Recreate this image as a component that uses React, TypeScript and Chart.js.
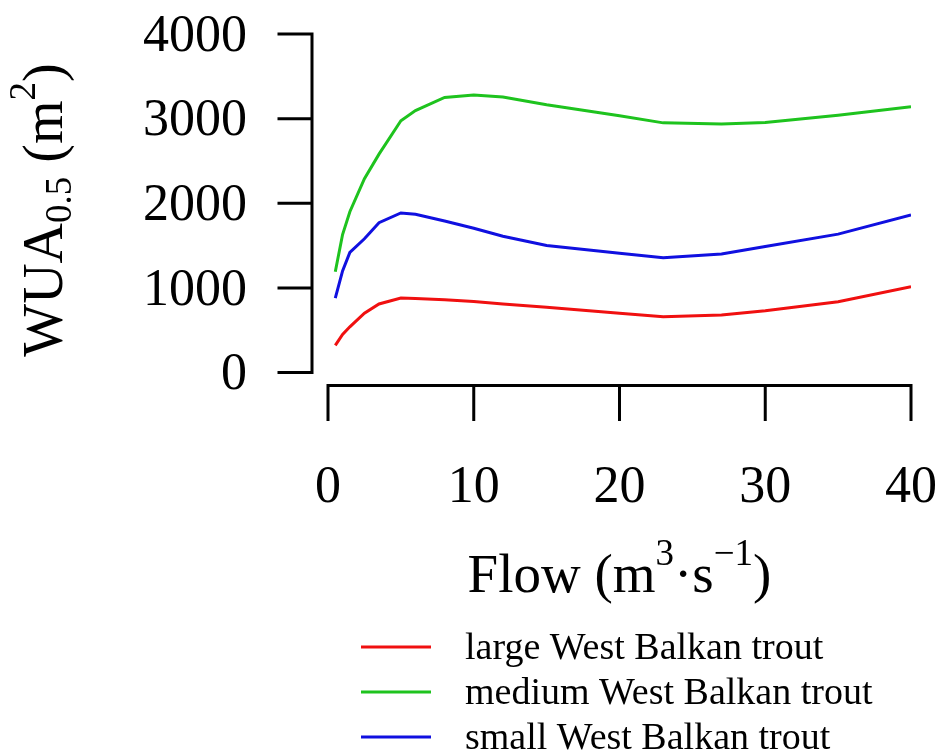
import React, { useEffect, useRef } from 'react';
import { Chart, registerables } from 'chart.js';

Chart.register(...registerables);

// Flow (m3/s)
const flow = [0.5, 1, 1.5, 2.5, 3.5, 5, 6, 8, 10, 12, 15, 20, 23, 27, 30, 35, 40];
// WUA0.5 (m2)
const largeWUA = [320, 450, 540, 700, 810, 880, 875, 860, 840, 810, 770, 700, 660, 680, 730, 835, 1015];
const mediumWUA = [1190, 1630, 1900, 2290, 2580, 2975, 3095, 3250, 3280, 3255, 3165, 3035, 2950, 2937, 2955, 3040, 3140];
const smallWUA = [880, 1200, 1420, 1580, 1770, 1885, 1870, 1790, 1705, 1610, 1500, 1410, 1357, 1400, 1490, 1635, 1862];

const seriesLabels = ['large West Balkan trout', 'medium West Balkan trout', 'small West Balkan trout'];
const seriesColors = ['#f01010', '#1ec31e', '#1010e0'];

const xTicks = [0, 10, 20, 30, 40];
const yTicks = [0, 1000, 2000, 3000, 4000];

const SERIF = '"Liberation Serif", "Times New Roman", serif';

type Piece = { t: string; s: number; dy: number };

function drawRich(ctx: CanvasRenderingContext2D, pieces: Piece[], cx: number, baseY: number) {
  let total = 0;
  const widths = pieces.map((p) => {
    ctx.font = `${p.s}px ${SERIF}`;
    const w = ctx.measureText(p.t).width;
    total += w;
    return w;
  });
  let x = cx - total / 2;
  ctx.textAlign = 'left';
  ctx.textBaseline = 'alphabetic';
  pieces.forEach((p, i) => {
    ctx.font = `${p.s}px ${SERIF}`;
    ctx.fillText(p.t, x, baseY + p.dy);
    x += widths[i];
  });
}

const rStylePlugin = {
  id: 'rStyle',
  afterDraw(chart: any) {
    const ctx: CanvasRenderingContext2D = chart.ctx;
    const xs = chart.scales.x;
    const ys = chart.scales.y;
    const area = chart.chartArea;
    ctx.save();
    ctx.strokeStyle = '#000';
    ctx.fillStyle = '#000';
    ctx.lineWidth = 3;
    ctx.lineCap = 'square';

    // Y axis (offset to the left like R)
    const yAxisX = area.left - 16;
    const yTickLen = 33;
    ctx.beginPath();
    ctx.moveTo(yAxisX, ys.getPixelForValue(yTicks[0]));
    ctx.lineTo(yAxisX, ys.getPixelForValue(yTicks[yTicks.length - 1]));
    yTicks.forEach((v) => {
      const py = ys.getPixelForValue(v);
      ctx.moveTo(yAxisX, py);
      ctx.lineTo(yAxisX - yTickLen, py);
    });
    ctx.stroke();

    ctx.font = `52px ${SERIF}`;
    ctx.textAlign = 'right';
    ctx.textBaseline = 'middle';
    yTicks.forEach((v) => {
      const py = ys.getPixelForValue(v);
      ctx.fillText(String(v), yAxisX - yTickLen - 32, py + 3);
    });

    // X axis (offset below)
    const xAxisY = area.bottom + 13;
    const xTickLen = 34;
    ctx.beginPath();
    ctx.moveTo(xs.getPixelForValue(xTicks[0]), xAxisY);
    ctx.lineTo(xs.getPixelForValue(xTicks[xTicks.length - 1]), xAxisY);
    xTicks.forEach((v) => {
      const px = xs.getPixelForValue(v);
      ctx.moveTo(px, xAxisY);
      ctx.lineTo(px, xAxisY + xTickLen);
    });
    ctx.stroke();

    ctx.font = `52px ${SERIF}`;
    ctx.textAlign = 'center';
    ctx.textBaseline = 'alphabetic';
    xTicks.forEach((v) => {
      const px = xs.getPixelForValue(v);
      ctx.fillText(String(v), px, 502);
    });

    // X title
    drawRich(
      ctx,
      [
        { t: 'Flow (m', s: 55, dy: 0 },
        { t: '3', s: 37, dy: -27 },
        { t: '\u00B7s', s: 55, dy: 0 },
        { t: '\u22121', s: 37, dy: -27 },
        { t: ')', s: 55, dy: 0 },
      ],
      (area.left + area.right) / 2,
      592
    );

    // Y title (rotated)
    ctx.save();
    ctx.translate(62, 210);
    ctx.rotate(-Math.PI / 2);
    drawRich(
      ctx,
      [
        { t: 'WUA', s: 56, dy: 0 },
        { t: '0.5', s: 37, dy: 9 },
        { t: ' (m', s: 56, dy: 0 },
        { t: '2', s: 37, dy: -27 },
        { t: ')', s: 56, dy: 0 },
      ],
      0,
      0
    );
    ctx.restore();

    // Legend
    chart.data.datasets.forEach((ds: any, i: number) => {
      const ly = 647 + 45 * i;
      ctx.strokeStyle = ds.borderColor;
      ctx.lineWidth = 3;
      ctx.lineCap = 'butt';
      ctx.beginPath();
      ctx.moveTo(361, ly);
      ctx.lineTo(431, ly);
      ctx.stroke();
      ctx.fillStyle = '#000';
      ctx.font = `38px ${SERIF}`;
      ctx.textAlign = 'left';
      ctx.textBaseline = 'middle';
      ctx.fillText(ds.label, 465, ly + 2);
    });

    ctx.restore();
  },
};

export default function App() {
  const ref = useRef<HTMLCanvasElement>(null);

  useEffect(() => {
    const series = [largeWUA, mediumWUA, smallWUA];
    const chart = new Chart(ref.current!, {
      type: 'line',
      data: {
        datasets: series.map((vals, i) => ({
          label: seriesLabels[i],
          data: flow.map((f, j) => ({ x: f, y: vals[j] })),
          borderColor: seriesColors[i],
          backgroundColor: seriesColors[i],
          borderWidth: 3,
          pointRadius: 0,
          tension: 0,
          fill: false,
        })),
      },
      options: {
        animation: false,
        responsive: false,
        devicePixelRatio: 1,
        layout: { padding: { left: 328, right: 30, top: 34, bottom: 381.5 } },
        plugins: { legend: { display: false }, tooltip: { enabled: false }, title: { display: false } },
        scales: {
          x: { type: 'linear', min: 0, max: 40, display: false },
          y: { type: 'linear', min: 0, max: 4000, display: false },
        },
      },
      plugins: [rStylePlugin],
    });
    return () => chart.destroy();
  }, []);

  return (
    <div style={{ position: 'fixed', left: 0, top: 0, width: 941, height: 754, background: '#fff' }}>
      <canvas ref={ref} width={941} height={754} style={{ display: 'block', width: 941, height: 754 }} />
    </div>
  );
}
